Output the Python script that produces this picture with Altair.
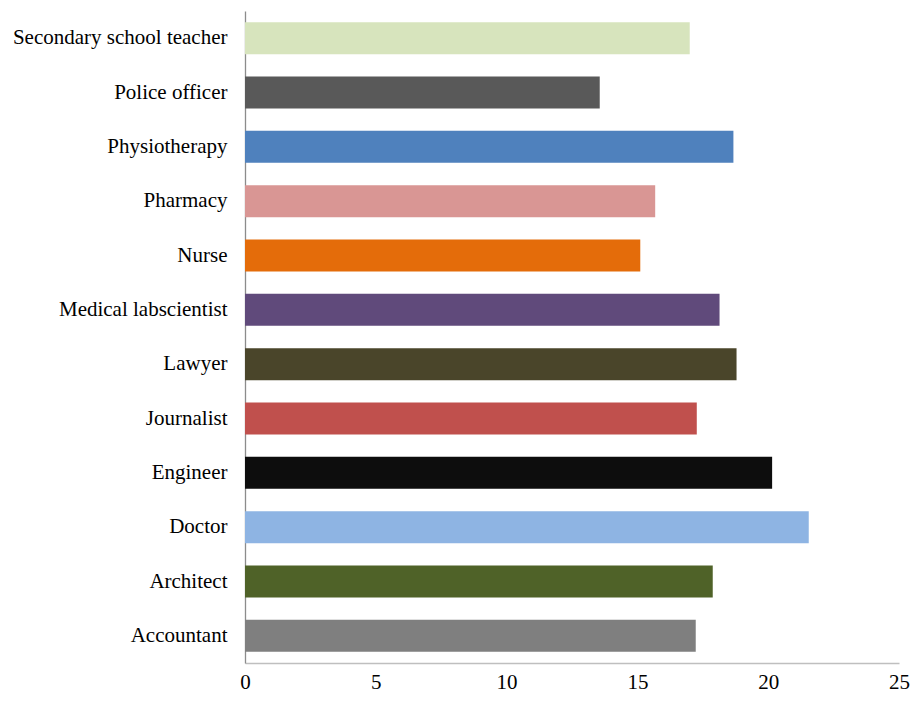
import altair as alt
import pandas as pd

categories = ["Secondary school teacher", "Police officer", "Physiotherapy", "Pharmacy",
              "Nurse", "Medical labscientist", "Lawyer", "Journalist", "Engineer",
              "Doctor", "Architect", "Accountant"]
values = [17.0, 13.56, 18.67, 15.68, 15.11, 18.14, 18.79, 17.27, 20.15, 21.55, 17.88, 17.23]
colors = ["#d7e4bd", "#595959", "#4f81bd", "#d99694", "#e46c0a", "#604a7b",
          "#4a452a", "#c0504d", "#0d0d0d", "#8eb4e3", "#4f6228", "#7f7f7f"]
x_ticks = [0, 5, 10, 15, 20, 25]

df = pd.DataFrame({"cat": categories, "val": values})

chart = alt.Chart(df).mark_bar().encode(
    y=alt.Y("cat:N", sort=categories, title=None,
            scale=alt.Scale(paddingInner=0.41, paddingOuter=0.205),
            axis=alt.Axis(ticks=False, labelPadding=18, labelFontSize=21,
                          labelFont="Liberation Serif", labelColor="#000",
                          domainColor="#8c8c8c", domainWidth=1.3, labelLimit=400)),
    x=alt.X("val:Q", title=None,
            scale=alt.Scale(domain=[0, 25], nice=False),
            axis=alt.Axis(values=x_ticks, ticks=False, grid=False, labelPadding=8,
                          labelFlush=False,
                          labelFontSize=21, labelFont="Liberation Serif", labelColor="#000",
                          domainColor="#bfbfbf", domainWidth=1.3)),
    color=alt.Color("cat:N", scale=alt.Scale(domain=categories, range=colors), legend=None),
).properties(
    width=654, height=652,
    background="white",
    autosize=alt.AutoSizeParams(type="none"),
    padding={"left": 237, "top": 3, "right": 12, "bottom": 30},
).configure_view(strokeWidth=0)

chart.save("out.html", embed_options={"renderer": "svg", "actions": False})
